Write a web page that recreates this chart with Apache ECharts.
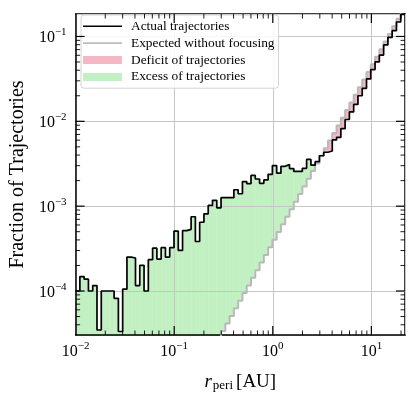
<!DOCTYPE html>
<html lang="en">
<head>
    <meta charset="UTF-8">
    <title>r_peri histogram</title>
    <script src="https://cdn.jsdelivr.net/npm/echarts@6/dist/echarts.min.js"></script>
    <style>
        html, body { margin: 0; padding: 0; background: #fff; }
        #chart { width: 416px; height: 397px; }
    </style>
</head>
<body>
<div id="chart"></div>
<script>
    // log-spaced bins between these r_peri limits [AU]
    var rMin = 0.01, rMax = 21.93, nBins = 77;
    var yMin = 3.03e-5, yMax = 0.184;

    // fraction of trajectories per bin
    var actual = [
        1.00e-4, 1.48e-4, 1.38e-4, 1.00e-4, 1.16e-4, 3.47e-5, 1.00e-4, 1.00e-4, 1.00e-4, 8.20e-5,
        3.33e-5, 1.05e-4, 2.51e-4, 2.45e-4, 1.16e-4, 2.01e-4, 1.00e-4, 2.34e-4, 3.20e-4, 2.38e-4,
        3.24e-4, 2.51e-4, 3.24e-4, 5.09e-4, 3.01e-4, 5.14e-4, 5.33e-4, 7.50e-4, 3.83e-4, 6.46e-4,
        8.13e-4, 1.02e-3, 1.17e-3, 9.55e-4, 1.26e-3, 1.26e-3, 1.26e-3, 1.56e-3, 1.40e-3, 1.95e-3,
        1.84e-3, 2.30e-3, 2.09e-3, 1.86e-3, 2.04e-3, 2.37e-3, 3.01e-3, 2.45e-3, 2.95e-3, 3.09e-3,
        2.77e-3, 2.57e-3, 2.57e-3, 2.79e-3, 3.55e-3, 3.04e-3, 3.34e-3, 3.93e-3, 4.32e-3, 4.47e-3,
        6.03e-3, 6.46e-3, 8.20e-3, 1.05e-2, 1.29e-2, 1.58e-2, 2.00e-2, 2.45e-2, 3.16e-2, 4.07e-2,
        5.01e-2, 6.03e-2, 7.94e-2, 9.77e-2, 0.117, 0.148, 0.182
    ];
    // expected without focusing; null where it lies below the plotted range
    var expected = [
        null, null, null, null, null, null, null, null, null, null,
        null, null, null, null, null, null, null, null, null, null,
        null, null, null, null, null, null, null, null, null, null,
        1.47e-5, 1.81e-5, 2.23e-5, 2.74e-5, 3.37e-5, 4.14e-5, 5.09e-5, 6.27e-5, 7.69e-5, 9.46e-5,
        1.16e-4, 1.43e-4, 1.76e-4, 2.17e-4, 2.66e-4, 3.27e-4, 4.03e-4, 4.95e-4, 6.10e-4, 7.48e-4,
        9.20e-4, 1.13e-3, 1.39e-3, 1.71e-3, 2.11e-3, 2.59e-3, 3.18e-3, 3.92e-3, 4.82e-3, 5.93e-3,
        7.28e-3, 8.95e-3, 1.10e-2, 1.36e-2, 1.67e-2, 2.05e-2, 2.52e-2, 3.10e-2, 3.81e-2, 4.69e-2,
        5.77e-2, 7.08e-2, 8.71e-2, 0.107, 0.132, 0.162, 0.200
    ];

    var majorMult = [1];
    var minorMult = [2, 3, 4, 5, 6, 7, 8, 9];

    var edges = [];
    for (var i = 0; i <= nBins; i++) {
        edges.push(rMin * Math.pow(rMax / rMin, i / nBins));
    }

    function stepData(vals) {
        var out = [];
        for (var i = 0; i < vals.length; i++) {
            out.push([edges[i], vals[i] == null ? '-' : vals[i]]);
        }
        out.push([edges[vals.length], vals[vals.length - 1]]);
        return out;
    }

    var fillData = [];
    for (var i = 0; i < nBins; i++) {
        var e = expected[i] == null ? yMin : Math.max(expected[i], yMin);
        fillData.push([edges[i], edges[i + 1], Math.max(actual[i], yMin), e]);
    }

    // tick positions over the decades spanned by an axis
    function tickList(lo, hi) {
        var out = [];
        for (var k = Math.floor(Math.log10(lo)); k <= Math.ceil(Math.log10(hi)); k++) {
            majorMult.concat(minorMult).forEach(function (m) {
                var v = m * Math.pow(10, k);
                if (v > lo * 1.0001 && v < hi * 0.9999) out.push([v, m === 1 ? 1 : 0]);
            });
        }
        return out;
    }
    var xTickData = tickList(rMin, rMax);
    var yTickData = tickList(yMin, yMax).map(function (t) { return [rMin, t[0], t[1]]; });

    function powLabel(v) {
        var k = Math.log10(v);
        if (Math.abs(k - Math.round(k)) > 1e-6) return '';
        k = Math.round(k);
        return '{b|10}{s|' + (k < 0 ? '\u2212' + (-k) : k) + '}';
    }

    var serif = 'Liberation Serif';
    var labelRich = {
        b: { fontFamily: serif, fontSize: 16, color: '#000', verticalAlign: 'bottom' },
        s: { fontFamily: serif, fontSize: 11, color: '#000', padding: [0, 0, 8, 0], verticalAlign: 'bottom' }
    };

    var redFill = '#f4b8c4', greenFill = '#c2f0c2';
    var lineIcon = 'path://M0,0H40V1.7H0Z';

    function fillRenderer(excess) {
        return function (params, api) {
            var lo = api.value(0), hi = api.value(1), a = api.value(2), e = api.value(3);
            if (excess ? !(a > e) : !(a < e)) return;
            var top = Math.min(Math.max(a, e), yMax), bot = Math.min(a, e);
            var p1 = api.coord([lo, top]), p2 = api.coord([hi, bot]);
            var c = excess ? greenFill : redFill;
            return {
                type: 'rect',
                shape: { x: p1[0], y: p1[1], width: p2[0] - p1[0], height: p2[1] - p1[1] },
                style: { fill: c, stroke: c, lineWidth: 0.6 }
            };
        };
    }

    function xTickRenderer(params, api) {
        var v = api.value(0), major = api.value(1) === 1;
        var len = major ? 9 : 4.5, w = major ? 1.2 : 0.9;
        var b = api.coord([v, yMin]), t = api.coord([v, yMax]);
        return {
            type: 'group', children: [
                { type: 'line', shape: { x1: b[0], y1: b[1], x2: b[0], y2: b[1] - len }, style: { stroke: '#000', lineWidth: w } },
                { type: 'line', shape: { x1: t[0], y1: t[1], x2: t[0], y2: t[1] + len }, style: { stroke: '#000', lineWidth: w } }
            ]
        };
    }

    function yTickRenderer(params, api) {
        var v = api.value(1), major = api.value(2) === 1;
        var len = major ? 9 : 4.5, w = major ? 1.2 : 0.9;
        var l = api.coord([rMin, v]), r = api.coord([rMax, v]);
        return {
            type: 'group', children: [
                { type: 'line', shape: { x1: l[0], y1: l[1], x2: l[0] + len, y2: l[1] }, style: { stroke: '#000', lineWidth: w } },
                { type: 'line', shape: { x1: r[0], y1: r[1], x2: r[0] - len, y2: r[1] }, style: { stroke: '#000', lineWidth: w } }
            ]
        };
    }

    var spine = { show: true, onZero: false, lineStyle: { color: '#000', width: 1.5 } };

    var chart = echarts.init(document.getElementById('chart'), null, { renderer: 'canvas' });
    chart.setOption({
        animation: false,
        textStyle: { fontFamily: serif },
        grid: { left: 75, top: 14, width: 330, height: 324 },
        legend: {
            left: 81, top: 15,
            orient: 'vertical',
            itemWidth: 39, itemHeight: 8, itemGap: 2.4,
            padding: [4, 4, 4, 2],
            backgroundColor: 'rgba(255,255,255,0.85)',
            borderColor: '#d4d4d4', borderWidth: 1, borderRadius: 3,
            textStyle: { fontFamily: serif, fontSize: 13.4, color: '#000', lineHeight: 14.5, padding: [0, 0, 0, 4] },
            data: [
                { name: 'Actual trajectories', icon: lineIcon, itemStyle: { color: '#000' } },
                { name: 'Expected without focusing', icon: lineIcon, itemStyle: { color: '#bdbdbd' } },
                { name: 'Deficit of trajectories', icon: 'rect', itemStyle: { color: redFill } },
                { name: 'Excess of trajectories', icon: 'rect', itemStyle: { color: greenFill } }
            ]
        },
        xAxis: [{
            type: 'log', logBase: 10, min: rMin, max: rMax, position: 'bottom', z: 1,
            axisLine: spine, axisTick: { show: false },
            axisLabel: { formatter: powLabel, rich: labelRich, margin: 6, showMinLabel: true, showMaxLabel: false },
            splitLine: { show: true, lineStyle: { color: '#c6c6c6', width: 1 } },
            name: '{i|r}{sub|peri} {n|[AU]}', nameLocation: 'middle', nameGap: 37,
            nameTextStyle: {
                rich: {
                    i: { fontFamily: serif, fontStyle: 'italic', fontSize: 19, color: '#000' },
                    sub: { fontFamily: serif, fontSize: 13, color: '#000', padding: [7, 0, 0, 1] },
                    n: { fontFamily: serif, fontSize: 19, color: '#000' }
                }
            }
        }, {
            type: 'log', logBase: 10, min: rMin, max: rMax, position: 'top',
            axisLine: spine, axisTick: { show: false }, axisLabel: { show: false }, splitLine: { show: false }
        }],
        yAxis: [{
            type: 'log', logBase: 10, min: yMin, max: yMax, position: 'left', z: 1,
            axisLine: spine, axisTick: { show: false },
            axisLabel: { formatter: powLabel, rich: labelRich, margin: 9 },
            splitLine: { show: true, lineStyle: { color: '#c6c6c6', width: 1 } },
            name: 'Fraction of Trajectories', nameLocation: 'middle', nameGap: 44, nameRotate: 90,
            nameTextStyle: { fontFamily: serif, fontSize: 20, color: '#000' }
        }, {
            type: 'log', logBase: 10, min: yMin, max: yMax, position: 'right',
            axisLine: spine, axisTick: { show: false }, axisLabel: { show: false }, splitLine: { show: false }
        }],
        series: [{
            name: 'Excess of trajectories', type: 'custom', z: 0,
            renderItem: fillRenderer(true), data: fillData,
            encode: { x: [0, 1], y: [2, 3] }, itemStyle: { color: greenFill }, silent: true
        }, {
            name: 'Deficit of trajectories', type: 'custom', z: 0,
            renderItem: fillRenderer(false), data: fillData,
            encode: { x: [0, 1], y: [2, 3] }, itemStyle: { color: redFill }, silent: true
        }, {
            name: 'Expected without focusing', type: 'line', step: 'end', z: 2,
            data: stepData(expected), symbol: 'none', connectNulls: false,
            lineStyle: { color: '#b9b9b9', width: 2 }, itemStyle: { color: '#b9b9b9' }
        }, {
            name: 'Actual trajectories', type: 'line', step: 'end', z: 3,
            data: stepData(actual), symbol: 'none',
            lineStyle: { color: '#000', width: 1.7 }, itemStyle: { color: '#000' }
        }, {
            type: 'custom', z: 4, renderItem: xTickRenderer, data: xTickData,
            encode: { x: 0 }, silent: true
        }, {
            type: 'custom', z: 4, renderItem: yTickRenderer, data: yTickData,
            encode: { x: 0, y: 1 }, silent: true
        }]
    });
</script>
</body>
</html>
